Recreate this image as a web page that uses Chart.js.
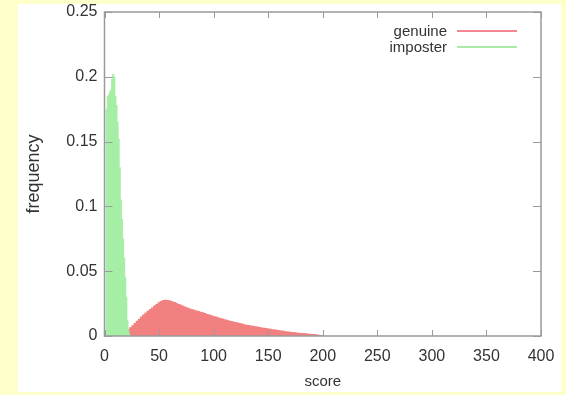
<!DOCTYPE html>
<html lang="en">
<head>
    <meta charset="UTF-8">
    <title>genuine vs imposter score histogram</title>
    <style>
        html, body { margin: 0; padding: 0; background: #ffffcc; }
        .panel { position: absolute; left: 18px; top: 4px; width: 543px; height: 388px; background: #fff; }
    </style>
</head>
<body>
    <div class="panel">
        <canvas id="scoreChart" width="543" height="388"></canvas>
    </div>

    <script src="https://cdn.jsdelivr.net/npm/chart.js"></script>
<script>
// imposter histogram, bins of width 1
const imposterScores = [2, 3, 4, 5, 6, 7, 8, 9, 10, 11, 12, 13, 14, 15, 16, 17, 18, 19, 20, 21, 22, 23];
const imposterFreq = [0.175, 0.185, 0.186, 0.188, 0.19, 0.198, 0.202, 0.2, 0.185, 0.178, 0.165, 0.152,
    0.13, 0.105, 0.09, 0.075, 0.06, 0.045, 0.03, 0.012, 0.004, 0.001];

// genuine histogram, bins of width 2 starting at score 12
const genuineStart = 12;
const genuineBin = 2;
const genuineFreq = [
    0.0003, 0.0008, 0.0015, 0.0025, 0.0035, 0.005, 0.0065, 0.008, 0.0098, 0.0115,
    0.013, 0.0148, 0.0163, 0.0178, 0.0192, 0.0205, 0.0218, 0.0232, 0.0245, 0.0258,
    0.0268, 0.0275, 0.0278, 0.0276, 0.0272, 0.0266, 0.026, 0.0252, 0.0245, 0.0238,
    0.0231, 0.0224, 0.0217, 0.021, 0.0205, 0.02, 0.0195, 0.019, 0.0185, 0.018,
    0.0174, 0.0168, 0.0163, 0.0157, 0.0152, 0.0147, 0.0142, 0.0137, 0.0132, 0.0127,
    0.0122, 0.0117, 0.0113, 0.0109, 0.0105, 0.0101, 0.0097, 0.0093, 0.0089, 0.0085,
    0.0082, 0.0079, 0.0076, 0.0073, 0.007, 0.0067, 0.0064, 0.0061, 0.0059, 0.0056,
    0.0053, 0.005, 0.0047, 0.0045, 0.0042, 0.004, 0.0037, 0.0035, 0.0033, 0.0031,
    0.0029, 0.0027, 0.0025, 0.0023, 0.0021, 0.002, 0.0018, 0.0017, 0.0015, 0.0013,
    0.0012, 0.001, 0.0008, 0.0006, 0.0004
];

const xTicks = [0, 50, 100, 150, 200, 250, 300, 350, 400];
const yTicks = [0, 0.05, 0.1, 0.15, 0.2, 0.25];
const yTickLabels = ['0', '0.05', '0.1', '0.15', '0.2', '0.25'];

const genuineData = genuineFreq.map((f, i) => ({ x: genuineStart + i * genuineBin, y: f }));
const imposterData = imposterFreq.map((f, i) => ({ x: imposterScores[i], y: f }));

const textColor = '#333';
const frameColor = '#9a9a9a';
const fontFamily = '"Liberation Sans", Arial, sans-serif';
const keyColors = ['#f0606e', '#8ee48e'];

// gnuplot style frame, inward ticks and key in the top right corner
const gnuplotFrame = {
    id: 'gnuplotFrame',
    afterDraw(chart) {
        const ctx = chart.ctx;
        const a = chart.chartArea;
        const xs = chart.scales.x, ys = chart.scales.y;
        ctx.save();
        ctx.strokeStyle = frameColor;
        ctx.lineWidth = 1.5;
        ctx.strokeRect(a.left, a.top, a.right - a.left, a.bottom - a.top);
        ctx.lineWidth = 1;
        ctx.beginPath();
        xTicks.forEach(v => {
            const px = Math.round(xs.getPixelForValue(v)) + 0.5;
            ctx.moveTo(px, a.bottom); ctx.lineTo(px, a.bottom - 6);
            ctx.moveTo(px, a.top); ctx.lineTo(px, a.top + 6);
        });
        yTicks.forEach(v => {
            const py = Math.round(ys.getPixelForValue(v)) + 0.5;
            ctx.moveTo(a.left, py); ctx.lineTo(a.left + 8, py);
            ctx.moveTo(a.right, py); ctx.lineTo(a.right - 8, py);
        });
        ctx.stroke();

        // key
        ctx.font = '15px ' + fontFamily;
        ctx.textAlign = 'right';
        ctx.textBaseline = 'middle';
        chart.data.datasets.forEach((ds, i) => {
            const y = 27 + i * 16;
            ctx.fillStyle = textColor;
            ctx.fillText(ds.label, 429, y + 1);
            ctx.strokeStyle = keyColors[i];
            ctx.lineWidth = 1.5;
            ctx.beginPath();
            ctx.moveTo(439, y);
            ctx.lineTo(499, y);
            ctx.stroke();
        });
        ctx.restore();
    }
};

const ctx = document.getElementById('scoreChart').getContext('2d');
const scoreChart = new Chart(ctx, {
    type: 'bar',
    data: {
        datasets: [{
            label: 'genuine',
            data: genuineData,
            backgroundColor: 'rgb(242, 128, 128)',
            barThickness: 2.4,
            grouped: false,
            borderWidth: 0,
            order: 2
        }, {
            label: 'imposter',
            data: imposterData,
            backgroundColor: 'rgb(166, 238, 166)',
            barThickness: 1.4,
            grouped: false,
            borderWidth: 0,
            order: 1
        }]
    },
    options: {
        responsive: false,
        animation: false,
        devicePixelRatio: 1,
        layout: { padding: { left: 0, right: 20, top: 8, bottom: 0 } },
        plugins: {
            legend: { display: false },
            tooltip: { enabled: false }
        },
        scales: {
            x: {
                type: 'linear',
                min: 0,
                max: 400,
                offset: false,
                grid: { display: false, drawTicks: false },
                border: { display: false },
                afterBuildTicks: s => { s.ticks = xTicks.map(v => ({ value: v })); },
                afterFit: s => { s.height = 56; s.paddingLeft = 0; s.paddingRight = 0; },
                ticks: {
                    padding: 11,
                    color: textColor,
                    font: { family: fontFamily, size: 16 },
                    maxRotation: 0
                },
                title: {
                    display: true,
                    text: 'score',
                    color: textColor,
                    padding: { top: 0, bottom: 1 },
                    font: { family: fontFamily, size: 15 }
                }
            },
            y: {
                min: 0,
                max: 0.25,
                grid: { display: false, drawTicks: false },
                border: { display: false },
                afterBuildTicks: s => { s.ticks = yTicks.map(v => ({ value: v })); },
                afterFit: s => { s.width = 86.5; s.paddingTop = 0; s.paddingBottom = 0; },
                ticks: {
                    padding: 7,
                    color: textColor,
                    font: { family: fontFamily, size: 16 },
                    callback: (v, i) => yTickLabels[i]
                },
                title: {
                    display: true,
                    text: 'frequency',
                    color: textColor,
                    padding: { top: 5, bottom: 0 },
                    font: { family: fontFamily, size: 18 }
                }
            }
        }
    },
    plugins: [gnuplotFrame]
});
</script>

</body>
</html>
